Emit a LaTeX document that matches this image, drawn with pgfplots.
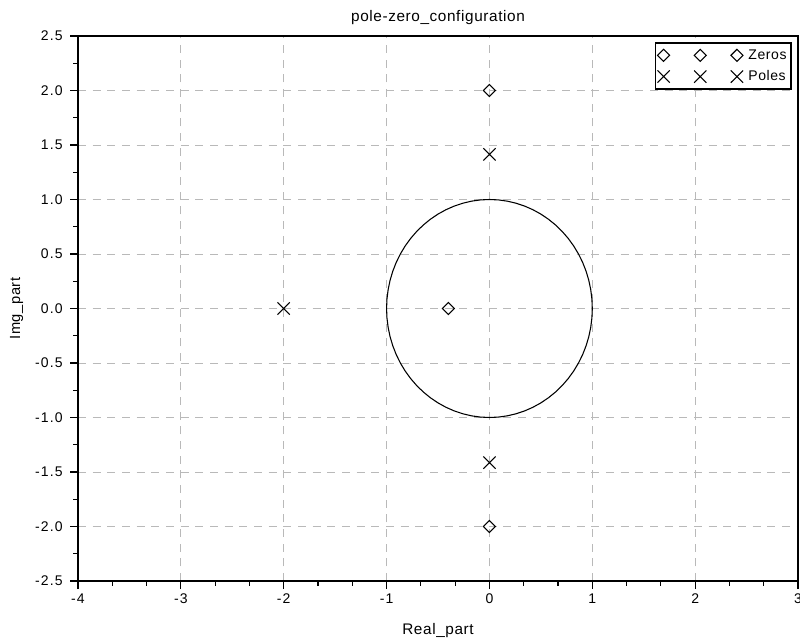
\documentclass[border=0pt]{standalone}
\usepackage{pgfplots}
\pgfplotsset{compat=1.18}
\usepackage{fontspec}
\setmainfont[LetterSpace=4]{Liberation Sans}
\newfontfamily\tickfont[LetterSpace=8]{Liberation Sans}
\definecolor{gridgray}{RGB}{185,185,185}
\begin{document}
\begin{tikzpicture}
\begin{axis}[
  scale only axis,
  width=540pt, height=408.75pt,
  xmin=-4, xmax=3, ymin=-2.5, ymax=2.5,
  xtick={-4,-3,-2,-1,0,1,2,3},
  ytick={-2.5,-2,-1.5,-1,-0.5,0,0.5,1,1.5,2,2.5},
  yticklabel style={xshift=-2pt, /pgf/number format/.cd,fixed,fixed zerofill,precision=1},
  minor x tick num=2,
  minor y tick num=1,
  tick pos=left,
  tick align=outside,
  major tick length=6pt,
  minor tick length=3.5pt,
  grid=major,
  major grid style={gridgray, line width=0.6pt, dash pattern=on 6pt off 5pt},
  axis line style={black, line width=1.1pt},
  tick style={black, line width=0.9pt},
  /pgf/number format/assume math mode=true,
  ticklabel style={font=\tickfont\fontsize{10.5}{11}\selectfont},
  every axis title/.style={at={(axis description cs:0.5,1)}, yshift=13.5pt, anchor=center, font=\fontsize{11.5}{12}\selectfont},
  every axis x label/.style={at={(axis description cs:0.5,0)}, yshift=-37pt, anchor=center, font=\fontsize{11.5}{12}\selectfont},
  every axis y label/.style={at={(axis description cs:0,0.5)}, xshift=-46pt, rotate=90, anchor=center, font=\fontsize{11}{12}\selectfont},
  title={pole-zero\_configuration},
  xlabel={Real\_part},
  ylabel={Img\_part},
  legend style={font=\fontsize{10.5}{12}\selectfont, draw=black, line width=1.3pt, inner xsep=1.5pt, inner ysep=3pt, row sep=3pt, at={(0.9917,0.989)}, anchor=north east},
  legend cell align=left,
  legend image code/.code={\draw[mark repeat=1,mark phase=1,#1] plot coordinates {(0pt,0pt) (27.5pt,0pt) (55pt,0pt)}; \path (61pt,0pt);},
]
\addplot[black, line width=0.8pt, forget plot] coordinates {
(1.0000,0.0000) (0.9962,0.0872) (0.9848,0.1736) (0.9659,0.2588) (0.9397,0.3420) (0.9063,0.4226)
(0.8660,0.5000) (0.8192,0.5736) (0.7660,0.6428) (0.7071,0.7071) (0.6428,0.7660) (0.5736,0.8192)
(0.5000,0.8660) (0.4226,0.9063) (0.3420,0.9397) (0.2588,0.9659) (0.1736,0.9848) (0.0872,0.9962)
(0.0000,1.0000) (-0.0872,0.9962) (-0.1736,0.9848) (-0.2588,0.9659) (-0.3420,0.9397) (-0.4226,0.9063)
(-0.5000,0.8660) (-0.5736,0.8192) (-0.6428,0.7660) (-0.7071,0.7071) (-0.7660,0.6428) (-0.8192,0.5736)
(-0.8660,0.5000) (-0.9063,0.4226) (-0.9397,0.3420) (-0.9659,0.2588) (-0.9848,0.1736) (-0.9962,0.0872)
(-1.0000,0.0000) (-0.9962,-0.0872) (-0.9848,-0.1736) (-0.9659,-0.2588) (-0.9397,-0.3420) (-0.9063,-0.4226)
(-0.8660,-0.5000) (-0.8192,-0.5736) (-0.7660,-0.6428) (-0.7071,-0.7071) (-0.6428,-0.7660) (-0.5736,-0.8192)
(-0.5000,-0.8660) (-0.4226,-0.9063) (-0.3420,-0.9397) (-0.2588,-0.9659) (-0.1736,-0.9848) (-0.0872,-0.9962)
(0.0000,-1.0000) (0.0872,-0.9962) (0.1736,-0.9848) (0.2588,-0.9659) (0.3420,-0.9397) (0.4226,-0.9063)
(0.5000,-0.8660) (0.5736,-0.8192) (0.6428,-0.7660) (0.7071,-0.7071) (0.7660,-0.6428) (0.8192,-0.5736)
(0.8660,-0.5000) (0.9063,-0.4226) (0.9397,-0.3420) (0.9659,-0.2588) (0.9848,-0.1736) (0.9962,-0.0872)
(1.0000,0.0000)
};
\addplot[only marks, mark=square, mark size=3.2pt, mark options={black, line width=0.8pt, fill=white, rotate=45}] coordinates {
(0,2) (0,-2) (-0.4,0)
};
\addlegendentry{Zeros\hspace{8pt}}
\addplot[only marks, mark=x, mark size=6.5pt, mark options={black, line width=0.8pt}] coordinates {
(0,1.4142) (0,-1.4142) (-2,0)
};
\addlegendentry{Poles\hspace{8pt}}
\end{axis}
\pgfresetboundingbox
\path ([xshift=-58.5pt,yshift=-44.25pt]current axis.south west) rectangle ([xshift=1.5pt,yshift=27pt]current axis.north east);
\end{tikzpicture}
\end{document}
